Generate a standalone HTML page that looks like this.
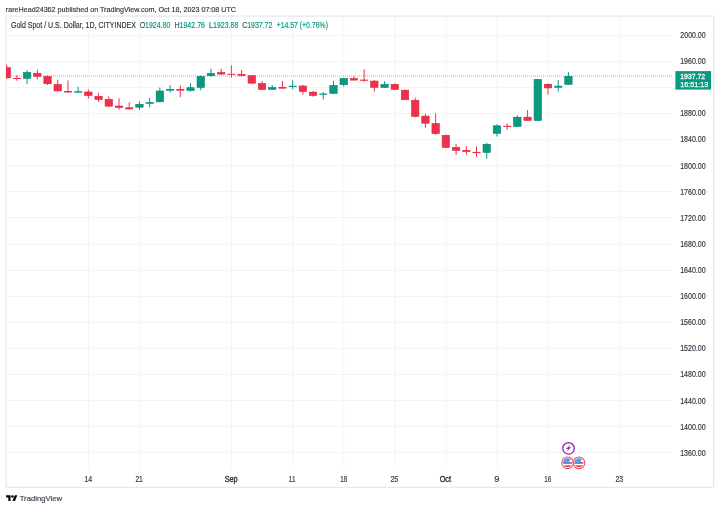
<!DOCTYPE html>
<html><head><meta charset="utf-8"><style>
html,body{margin:0;padding:0;background:#fff;}
body{width:720px;height:509px;overflow:hidden;position:relative;font-family:"Liberation Sans",sans-serif;}
svg{position:absolute;left:0;top:0;will-change:transform;}
</style></head><body>
<svg width="720" height="509" viewBox="0 0 720 509" font-family="'Liberation Sans', sans-serif">
<rect x="0" y="0" width="720" height="509" fill="#ffffff"/>
<text x="5.85" y="11.90" font-size="8.0" font-weight="normal" fill="#343843" textLength="230.16" lengthAdjust="spacingAndGlyphs" xml:space="preserve" stroke="#343843" stroke-width="0.18">rareHead24362 published on TradingView.com, Oct 18, 2023 07:08 UTC</text>
<rect x="6.1" y="16.1" width="707.5" height="471.2" fill="none" stroke="#e4e5e8" stroke-width="1.1"/>
<svg x="6.5" y="16.5" width="666.5" height="451.5" viewBox="6.5 16.5 666.5 451.5" overflow="hidden">
<line x1="6.5" y1="35.5" x2="673" y2="35.5" stroke="#f4f4f6" stroke-width="1"/><line x1="6.5" y1="61.5" x2="673" y2="61.5" stroke="#f4f4f6" stroke-width="1"/><line x1="6.5" y1="87.5" x2="673" y2="87.5" stroke="#f4f4f6" stroke-width="1"/><line x1="6.5" y1="113.5" x2="673" y2="113.5" stroke="#f4f4f6" stroke-width="1"/><line x1="6.5" y1="139.5" x2="673" y2="139.5" stroke="#f4f4f6" stroke-width="1"/><line x1="6.5" y1="165.5" x2="673" y2="165.5" stroke="#f4f4f6" stroke-width="1"/><line x1="6.5" y1="191.5" x2="673" y2="191.5" stroke="#f4f4f6" stroke-width="1"/><line x1="6.5" y1="217.5" x2="673" y2="217.5" stroke="#f4f4f6" stroke-width="1"/><line x1="6.5" y1="244.5" x2="673" y2="244.5" stroke="#f4f4f6" stroke-width="1"/><line x1="6.5" y1="270.5" x2="673" y2="270.5" stroke="#f4f4f6" stroke-width="1"/><line x1="6.5" y1="296.5" x2="673" y2="296.5" stroke="#f4f4f6" stroke-width="1"/><line x1="6.5" y1="322.5" x2="673" y2="322.5" stroke="#f4f4f6" stroke-width="1"/><line x1="6.5" y1="348.5" x2="673" y2="348.5" stroke="#f4f4f6" stroke-width="1"/><line x1="6.5" y1="374.5" x2="673" y2="374.5" stroke="#f4f4f6" stroke-width="1"/><line x1="6.5" y1="400.5" x2="673" y2="400.5" stroke="#f4f4f6" stroke-width="1"/><line x1="6.5" y1="426.5" x2="673" y2="426.5" stroke="#f4f4f6" stroke-width="1"/><line x1="6.5" y1="452.5" x2="673" y2="452.5" stroke="#f4f4f6" stroke-width="1"/><line x1="88.57" y1="16.5" x2="88.57" y2="468" stroke="#f4f4f6" stroke-width="1"/><line x1="139.64" y1="16.5" x2="139.64" y2="468" stroke="#f4f4f6" stroke-width="1"/><line x1="231.57" y1="16.5" x2="231.57" y2="468" stroke="#f4f4f6" stroke-width="1"/><line x1="292.85" y1="16.5" x2="292.85" y2="468" stroke="#f4f4f6" stroke-width="1"/><line x1="343.92" y1="16.5" x2="343.92" y2="468" stroke="#f4f4f6" stroke-width="1"/><line x1="394.99" y1="16.5" x2="394.99" y2="468" stroke="#f4f4f6" stroke-width="1"/><line x1="446.06" y1="16.5" x2="446.06" y2="468" stroke="#f4f4f6" stroke-width="1"/><line x1="497.13" y1="16.5" x2="497.13" y2="468" stroke="#f4f4f6" stroke-width="1"/><line x1="548.2" y1="16.5" x2="548.2" y2="468" stroke="#f4f4f6" stroke-width="1"/><line x1="619.7" y1="16.5" x2="619.7" y2="468" stroke="#f4f4f6" stroke-width="1"/>
<line x1="7" y1="76" x2="673" y2="76" stroke="#a6b4b1" stroke-width="1" stroke-dasharray="1 1"/>
<rect x="6.16" y="64.5" width="1" height="14" fill="#f22f4a"/><rect x="2.96" y="67.6" width="7.4" height="10.3" fill="#f22f4a" stroke="#d52a3e" stroke-width="0.6"/><rect x="16.37" y="74.9" width="1" height="5.9" fill="#f22f4a"/><rect x="12.87" y="78" width="8" height="1" fill="#f22f4a"/><rect x="26.59" y="70.1" width="1" height="13.9" fill="#089981"/><rect x="23.39" y="72.5" width="7.4" height="5.8" fill="#089981" stroke="#07806c" stroke-width="0.6"/><rect x="36.8" y="69.7" width="1" height="9.7" fill="#f22f4a"/><rect x="33.6" y="73.3" width="7.4" height="3.1" fill="#f22f4a" stroke="#d52a3e" stroke-width="0.6"/><rect x="47.02" y="75.4" width="1" height="9.6" fill="#f22f4a"/><rect x="43.82" y="76.5" width="7.4" height="7.2" fill="#f22f4a" stroke="#d52a3e" stroke-width="0.6"/><rect x="57.23" y="79.6" width="1" height="11.9" fill="#f22f4a"/><rect x="54.03" y="84.5" width="7.4" height="6.45" fill="#f22f4a" stroke="#d52a3e" stroke-width="0.6"/><rect x="67.44" y="80.4" width="1" height="12.3" fill="#f22f4a"/><rect x="63.94" y="91" width="8" height="1.5" fill="#f22f4a"/><rect x="77.66" y="86.7" width="1" height="6.05" fill="#089981"/><rect x="74.16" y="91.25" width="8" height="1.5" fill="#089981"/><rect x="87.87" y="89.6" width="1" height="9.15" fill="#f22f4a"/><rect x="84.67" y="92" width="7.4" height="3.5" fill="#f22f4a" stroke="#d52a3e" stroke-width="0.6"/><rect x="98.09" y="92.9" width="1" height="9" fill="#f22f4a"/><rect x="94.89" y="96.3" width="7.4" height="3.15" fill="#f22f4a" stroke="#d52a3e" stroke-width="0.6"/><rect x="108.3" y="96.25" width="1" height="10.35" fill="#f22f4a"/><rect x="105.1" y="99.3" width="7.4" height="6.9" fill="#f22f4a" stroke="#d52a3e" stroke-width="0.6"/><rect x="118.51" y="98.2" width="1" height="11.4" fill="#f22f4a"/><rect x="115.31" y="106" width="7.4" height="1.45" fill="#f22f4a" stroke="#d52a3e" stroke-width="0.6"/><rect x="128.73" y="102.3" width="1" height="7.3" fill="#f22f4a"/><rect x="125.23" y="107.3" width="8" height="2" fill="#f22f4a"/><rect x="138.94" y="101.25" width="1" height="8.55" fill="#089981"/><rect x="135.74" y="104.3" width="7.4" height="2.9" fill="#089981" stroke="#07806c" stroke-width="0.6"/><rect x="149.16" y="97.9" width="1" height="9.3" fill="#089981"/><rect x="145.66" y="102.1" width="8" height="1.7" fill="#089981"/><rect x="159.37" y="87.4" width="1" height="14.9" fill="#089981"/><rect x="156.17" y="91" width="7.4" height="10.8" fill="#089981" stroke="#07806c" stroke-width="0.6"/><rect x="169.58" y="85.1" width="1" height="7.4" fill="#089981"/><rect x="166.08" y="89" width="8" height="1.7" fill="#089981"/><rect x="179.8" y="85.6" width="1" height="11.6" fill="#f22f4a"/><rect x="176.3" y="89" width="8" height="1.7" fill="#f22f4a"/><rect x="190.01" y="83.2" width="1" height="8.5" fill="#089981"/><rect x="186.81" y="87.7" width="7.4" height="2.7" fill="#089981" stroke="#07806c" stroke-width="0.6"/><rect x="200.23" y="75.5" width="1" height="14.8" fill="#089981"/><rect x="197.03" y="76.4" width="7.4" height="11" fill="#089981" stroke="#07806c" stroke-width="0.6"/><rect x="210.44" y="68.7" width="1" height="8.2" fill="#089981"/><rect x="207.24" y="73.4" width="7.4" height="2.3" fill="#089981" stroke="#07806c" stroke-width="0.6"/><rect x="220.65" y="68.7" width="1" height="6.2" fill="#f22f4a"/><rect x="217.45" y="72.5" width="7.4" height="1.6" fill="#f22f4a" stroke="#d52a3e" stroke-width="0.6"/><rect x="230.87" y="65.4" width="1" height="12.1" fill="#f22f4a"/><rect x="227.37" y="73.8" width="8" height="1" fill="#f22f4a"/><rect x="241.08" y="70" width="1" height="6.6" fill="#f22f4a"/><rect x="237.58" y="74" width="8" height="1.8" fill="#f22f4a"/><rect x="251.3" y="75" width="1" height="8.6" fill="#f22f4a"/><rect x="248.1" y="75.7" width="7.4" height="7.5" fill="#f22f4a" stroke="#d52a3e" stroke-width="0.6"/><rect x="261.51" y="81.25" width="1" height="8.65" fill="#f22f4a"/><rect x="258.31" y="83.5" width="7.4" height="6" fill="#f22f4a" stroke="#d52a3e" stroke-width="0.6"/><rect x="271.72" y="85" width="1" height="4.7" fill="#089981"/><rect x="268.52" y="87.6" width="7.4" height="1.7" fill="#089981" stroke="#07806c" stroke-width="0.6"/><rect x="281.94" y="80.8" width="1" height="7.9" fill="#f22f4a"/><rect x="278.44" y="87" width="8" height="1.6" fill="#f22f4a"/><rect x="292.15" y="80.2" width="1" height="9.1" fill="#089981"/><rect x="288.65" y="85.8" width="8" height="1.2" fill="#089981"/><rect x="302.37" y="85" width="1" height="9.6" fill="#f22f4a"/><rect x="299.17" y="86" width="7.4" height="5.5" fill="#f22f4a" stroke="#d52a3e" stroke-width="0.6"/><rect x="312.58" y="91.25" width="1" height="5.45" fill="#f22f4a"/><rect x="309.38" y="92.1" width="7.4" height="3.3" fill="#f22f4a" stroke="#d52a3e" stroke-width="0.6"/><rect x="322.79" y="92" width="1" height="7.6" fill="#089981"/><rect x="319.29" y="93.5" width="8" height="1.3" fill="#089981"/><rect x="333.01" y="81" width="1" height="12.8" fill="#089981"/><rect x="329.81" y="85.5" width="7.4" height="7.95" fill="#089981" stroke="#07806c" stroke-width="0.6"/><rect x="343.22" y="77.9" width="1" height="8.6" fill="#089981"/><rect x="340.02" y="78.5" width="7.4" height="6.2" fill="#089981" stroke="#07806c" stroke-width="0.6"/><rect x="353.44" y="76.25" width="1" height="4.25" fill="#f22f4a"/><rect x="350.24" y="78.6" width="7.4" height="1.5" fill="#f22f4a" stroke="#d52a3e" stroke-width="0.6"/><rect x="363.65" y="69.2" width="1" height="12.6" fill="#f22f4a"/><rect x="360.15" y="79.6" width="8" height="1.2" fill="#f22f4a"/><rect x="373.86" y="80" width="1" height="11.7" fill="#f22f4a"/><rect x="370.66" y="81.1" width="7.4" height="6.3" fill="#f22f4a" stroke="#d52a3e" stroke-width="0.6"/><rect x="384.08" y="81.25" width="1" height="6.55" fill="#089981"/><rect x="380.88" y="84.5" width="7.4" height="2.95" fill="#089981" stroke="#07806c" stroke-width="0.6"/><rect x="394.29" y="83.3" width="1" height="6.5" fill="#f22f4a"/><rect x="391.09" y="84.3" width="7.4" height="5.1" fill="#f22f4a" stroke="#d52a3e" stroke-width="0.6"/><rect x="404.51" y="89.5" width="1" height="10.8" fill="#f22f4a"/><rect x="401.31" y="90.2" width="7.4" height="9.5" fill="#f22f4a" stroke="#d52a3e" stroke-width="0.6"/><rect x="414.72" y="97.6" width="1" height="19.6" fill="#f22f4a"/><rect x="411.52" y="100.3" width="7.4" height="16.1" fill="#f22f4a" stroke="#d52a3e" stroke-width="0.6"/><rect x="424.93" y="113.8" width="1" height="13.6" fill="#f22f4a"/><rect x="421.73" y="116.1" width="7.4" height="7.1" fill="#f22f4a" stroke="#d52a3e" stroke-width="0.6"/><rect x="435.15" y="113.25" width="1" height="21.25" fill="#f22f4a"/><rect x="431.95" y="123.6" width="7.4" height="10" fill="#f22f4a" stroke="#d52a3e" stroke-width="0.6"/><rect x="445.36" y="134.5" width="1" height="13.3" fill="#f22f4a"/><rect x="442.16" y="135.3" width="7.4" height="12.1" fill="#f22f4a" stroke="#d52a3e" stroke-width="0.6"/><rect x="455.58" y="144.1" width="1" height="11" fill="#f22f4a"/><rect x="452.38" y="147.4" width="7.4" height="3" fill="#f22f4a" stroke="#d52a3e" stroke-width="0.6"/><rect x="465.79" y="146.2" width="1" height="8.3" fill="#f22f4a"/><rect x="462.29" y="150" width="8" height="1.9" fill="#f22f4a"/><rect x="476" y="146.5" width="1" height="10.4" fill="#f22f4a"/><rect x="472.5" y="151.9" width="8" height="1.2" fill="#f22f4a"/><rect x="486.22" y="142.7" width="1" height="15.9" fill="#089981"/><rect x="483.02" y="144.4" width="7.4" height="8" fill="#089981" stroke="#07806c" stroke-width="0.6"/><rect x="496.43" y="124.3" width="1" height="12.2" fill="#089981"/><rect x="493.23" y="125.8" width="7.4" height="7.5" fill="#089981" stroke="#07806c" stroke-width="0.6"/><rect x="506.65" y="123.3" width="1" height="6.6" fill="#f22f4a"/><rect x="503.15" y="125.9" width="8" height="1.1" fill="#f22f4a"/><rect x="516.86" y="115.4" width="1" height="11.4" fill="#089981"/><rect x="513.66" y="117.2" width="7.4" height="9.2" fill="#089981" stroke="#07806c" stroke-width="0.6"/><rect x="527.07" y="110" width="1" height="10.8" fill="#f22f4a"/><rect x="523.87" y="117.2" width="7.4" height="3.25" fill="#f22f4a" stroke="#d52a3e" stroke-width="0.6"/><rect x="537.29" y="79" width="1" height="41.8" fill="#089981"/><rect x="534.09" y="79.5" width="7.4" height="40.95" fill="#089981" stroke="#07806c" stroke-width="0.6"/><rect x="547.5" y="83.3" width="1" height="11.3" fill="#f22f4a"/><rect x="544.3" y="84.3" width="7.4" height="3.6" fill="#f22f4a" stroke="#d52a3e" stroke-width="0.6"/><rect x="557.72" y="80" width="1" height="11.7" fill="#089981"/><rect x="554.22" y="85.8" width="8" height="1.95" fill="#089981"/><rect x="567.93" y="72.1" width="1" height="12.6" fill="#089981"/><rect x="564.73" y="76.3" width="7.4" height="8" fill="#089981" stroke="#07806c" stroke-width="0.6"/>
</svg>
<text x="10.96" y="27.80" font-size="8.3" font-weight="normal" fill="#343843" textLength="125.01" lengthAdjust="spacingAndGlyphs" xml:space="preserve" stroke="#343843" stroke-width="0.18">Gold Spot / U.S. Dollar, 1D, CITYINDEX</text>
<text x="139.66" y="27.80" font-size="8.3" font-weight="normal" fill="#089981" textLength="30.64" lengthAdjust="spacingAndGlyphs" xml:space="preserve" stroke="#089981" stroke-width="0.18"><tspan fill="#343843">O</tspan>1924.80</text>
<text x="174.40" y="27.80" font-size="8.3" font-weight="normal" fill="#089981" textLength="30.63" lengthAdjust="spacingAndGlyphs" xml:space="preserve" stroke="#089981" stroke-width="0.18"><tspan fill="#343843">H</tspan>1942.76</text>
<text x="209.11" y="27.80" font-size="8.3" font-weight="normal" fill="#089981" textLength="29.25" lengthAdjust="spacingAndGlyphs" xml:space="preserve" stroke="#089981" stroke-width="0.18"><tspan fill="#343843">L</tspan>1923.88</text>
<text x="242.16" y="27.80" font-size="8.3" font-weight="normal" fill="#089981" textLength="30.17" lengthAdjust="spacingAndGlyphs" xml:space="preserve" stroke="#089981" stroke-width="0.18"><tspan fill="#343843">C</tspan>1937.72</text>
<text x="276.67" y="27.80" font-size="8.3" font-weight="normal" fill="#089981" textLength="51.27" lengthAdjust="spacingAndGlyphs" xml:space="preserve" stroke="#089981" stroke-width="0.18">+14.57 (+0.76%)</text>
<text x="680.36" y="38.00" font-size="8.3" font-weight="normal" fill="#343843" textLength="25.29" lengthAdjust="spacingAndGlyphs" xml:space="preserve" stroke="#343843" stroke-width="0.18">2000.00</text>
<text x="680.19" y="64.11" font-size="8.3" font-weight="normal" fill="#343843" textLength="25.47" lengthAdjust="spacingAndGlyphs" xml:space="preserve" stroke="#343843" stroke-width="0.18">1960.00</text>
<text x="680.19" y="116.32" font-size="8.3" font-weight="normal" fill="#343843" textLength="25.47" lengthAdjust="spacingAndGlyphs" xml:space="preserve" stroke="#343843" stroke-width="0.18">1880.00</text>
<text x="680.19" y="142.43" font-size="8.3" font-weight="normal" fill="#343843" textLength="25.47" lengthAdjust="spacingAndGlyphs" xml:space="preserve" stroke="#343843" stroke-width="0.18">1840.00</text>
<text x="680.19" y="168.54" font-size="8.3" font-weight="normal" fill="#343843" textLength="25.47" lengthAdjust="spacingAndGlyphs" xml:space="preserve" stroke="#343843" stroke-width="0.18">1800.00</text>
<text x="680.19" y="194.65" font-size="8.3" font-weight="normal" fill="#343843" textLength="25.47" lengthAdjust="spacingAndGlyphs" xml:space="preserve" stroke="#343843" stroke-width="0.18">1760.00</text>
<text x="680.19" y="220.76" font-size="8.3" font-weight="normal" fill="#343843" textLength="25.47" lengthAdjust="spacingAndGlyphs" xml:space="preserve" stroke="#343843" stroke-width="0.18">1720.00</text>
<text x="680.19" y="246.86" font-size="8.3" font-weight="normal" fill="#343843" textLength="25.47" lengthAdjust="spacingAndGlyphs" xml:space="preserve" stroke="#343843" stroke-width="0.18">1680.00</text>
<text x="680.19" y="272.97" font-size="8.3" font-weight="normal" fill="#343843" textLength="25.47" lengthAdjust="spacingAndGlyphs" xml:space="preserve" stroke="#343843" stroke-width="0.18">1640.00</text>
<text x="680.19" y="299.08" font-size="8.3" font-weight="normal" fill="#343843" textLength="25.47" lengthAdjust="spacingAndGlyphs" xml:space="preserve" stroke="#343843" stroke-width="0.18">1600.00</text>
<text x="680.19" y="325.19" font-size="8.3" font-weight="normal" fill="#343843" textLength="25.47" lengthAdjust="spacingAndGlyphs" xml:space="preserve" stroke="#343843" stroke-width="0.18">1560.00</text>
<text x="680.19" y="351.30" font-size="8.3" font-weight="normal" fill="#343843" textLength="25.47" lengthAdjust="spacingAndGlyphs" xml:space="preserve" stroke="#343843" stroke-width="0.18">1520.00</text>
<text x="680.19" y="377.40" font-size="8.3" font-weight="normal" fill="#343843" textLength="25.47" lengthAdjust="spacingAndGlyphs" xml:space="preserve" stroke="#343843" stroke-width="0.18">1480.00</text>
<text x="680.19" y="403.51" font-size="8.3" font-weight="normal" fill="#343843" textLength="25.47" lengthAdjust="spacingAndGlyphs" xml:space="preserve" stroke="#343843" stroke-width="0.18">1440.00</text>
<text x="680.19" y="429.62" font-size="8.3" font-weight="normal" fill="#343843" textLength="25.47" lengthAdjust="spacingAndGlyphs" xml:space="preserve" stroke="#343843" stroke-width="0.18">1400.00</text>
<text x="680.19" y="455.73" font-size="8.3" font-weight="normal" fill="#343843" textLength="25.47" lengthAdjust="spacingAndGlyphs" xml:space="preserve" stroke="#343843" stroke-width="0.18">1360.00</text>
<rect x="675.4" y="71.1" width="35.6" height="18.5" fill="#089981"/>
<text x="680.28" y="78.90" font-size="7.9" font-weight="normal" fill="#fff" textLength="24.83" lengthAdjust="spacingAndGlyphs" xml:space="preserve" stroke="#fff" stroke-width="0.3">1937.72</text>
<text x="680.34" y="87.20" font-size="7.7" font-weight="normal" fill="#fff" textLength="28.01" lengthAdjust="spacingAndGlyphs" xml:space="preserve" stroke="#fff" stroke-width="0.25">16:51:13</text>
<text x="84.39" y="481.80" font-size="8.4" font-weight="normal" fill="#343843" textLength="7.91" lengthAdjust="spacingAndGlyphs" xml:space="preserve" stroke="#343843" stroke-width="0.18">14</text>
<text x="135.41" y="481.80" font-size="8.4" font-weight="normal" fill="#343843" textLength="7.42" lengthAdjust="spacingAndGlyphs" xml:space="preserve" stroke="#343843" stroke-width="0.18">21</text>
<text x="224.63" y="481.80" font-size="8.4" font-weight="normal" fill="#343843" textLength="12.89" lengthAdjust="spacingAndGlyphs" xml:space="preserve" stroke="#343843" stroke-width="0.4">Sep</text>
<text x="288.85" y="481.80" font-size="8.4" font-weight="normal" fill="#343843" textLength="6.57" lengthAdjust="spacingAndGlyphs" xml:space="preserve" stroke="#343843" stroke-width="0.18">11</text>
<text x="340.30" y="481.80" font-size="8.4" font-weight="normal" fill="#343843" textLength="7.01" lengthAdjust="spacingAndGlyphs" xml:space="preserve" stroke="#343843" stroke-width="0.18">18</text>
<text x="390.41" y="481.80" font-size="8.4" font-weight="normal" fill="#343843" textLength="7.93" lengthAdjust="spacingAndGlyphs" xml:space="preserve" stroke="#343843" stroke-width="0.18">25</text>
<text x="439.65" y="481.80" font-size="8.4" font-weight="normal" fill="#343843" textLength="11.41" lengthAdjust="spacingAndGlyphs" xml:space="preserve" stroke="#343843" stroke-width="0.4">Oct</text>
<text x="494.31" y="481.80" font-size="8.4" font-weight="normal" fill="#343843" textLength="5.15" lengthAdjust="spacingAndGlyphs" xml:space="preserve" stroke="#343843" stroke-width="0.18">9</text>
<text x="544.30" y="481.80" font-size="8.4" font-weight="normal" fill="#343843" textLength="7.01" lengthAdjust="spacingAndGlyphs" xml:space="preserve" stroke="#343843" stroke-width="0.18">16</text>
<text x="615.47" y="481.80" font-size="8.4" font-weight="normal" fill="#343843" textLength="7.82" lengthAdjust="spacingAndGlyphs" xml:space="preserve" stroke="#343843" stroke-width="0.18">23</text>
<g>
<circle cx="568.5" cy="448.3" r="5.75" fill="#fff" stroke="#8e24aa" stroke-width="1.25"/>
<path d="M570.6 444.6 L565.9 449.1 L568.2 449.1 L566.4 452.1 L571.2 447.3 L568.9 447.3 Z" fill="#9c27b0"/>
</g>
<g>
<circle cx="567.6" cy="462.8" r="5.8" fill="#fff" stroke="#f04a5e" stroke-width="1.1"/>
<clipPath id="fc1"><circle cx="567.6" cy="462.8" r="4.5"/></clipPath>
<g clip-path="url(#fc1)">
<rect x="562.6" y="457.8" width="10" height="10" fill="#fff"/>
<rect x="562.6" y="459.2" width="10" height="0.8" fill="#f45b6c"/>
<rect x="562.6" y="462.2" width="10" height="1.5" fill="#f23645"/>
<rect x="562.6" y="465.3" width="10" height="2.4" fill="#f23645"/>
<rect x="562.6" y="457.8" width="7.0" height="5.9" fill="#4d92e6"/>
<circle cx="565.0" cy="460.40000000000003" r="0.45" fill="#cfe2fa"/>
<circle cx="566.8000000000001" cy="459.90000000000003" r="0.45" fill="#cfe2fa"/>
<circle cx="566.0" cy="461.7" r="0.45" fill="#cfe2fa"/>
<circle cx="568.2" cy="461.40000000000003" r="0.45" fill="#cfe2fa"/>
</g></g>
<g>
<circle cx="579.0" cy="462.8" r="5.8" fill="#fff" stroke="#f04a5e" stroke-width="1.1"/>
<clipPath id="fc2"><circle cx="579.0" cy="462.8" r="4.5"/></clipPath>
<g clip-path="url(#fc2)">
<rect x="574.0" y="457.8" width="10" height="10" fill="#fff"/>
<rect x="574.0" y="459.2" width="10" height="0.8" fill="#f45b6c"/>
<rect x="574.0" y="462.2" width="10" height="1.5" fill="#f23645"/>
<rect x="574.0" y="465.3" width="10" height="2.4" fill="#f23645"/>
<rect x="574.0" y="457.8" width="7.0" height="5.9" fill="#4d92e6"/>
<circle cx="576.4" cy="460.40000000000003" r="0.45" fill="#cfe2fa"/>
<circle cx="578.2" cy="459.90000000000003" r="0.45" fill="#cfe2fa"/>
<circle cx="577.4" cy="461.7" r="0.45" fill="#cfe2fa"/>
<circle cx="579.6" cy="461.40000000000003" r="0.45" fill="#cfe2fa"/>
</g></g>
<g fill="#000" transform="translate(6.1 494.0) scale(0.317)">
<path d="M14 22H7V11H0V4h14v18zM28 22h-8l7.5-18h8L28 22z"/><circle cx="20" cy="8" r="4"/>
</g>
<text x="19.70" y="500.50" font-size="7.9" font-weight="normal" fill="#454954" textLength="42.47" lengthAdjust="spacingAndGlyphs" xml:space="preserve" stroke="#454954" stroke-width="0.2">TradingView</text>
</svg>
</body></html>
